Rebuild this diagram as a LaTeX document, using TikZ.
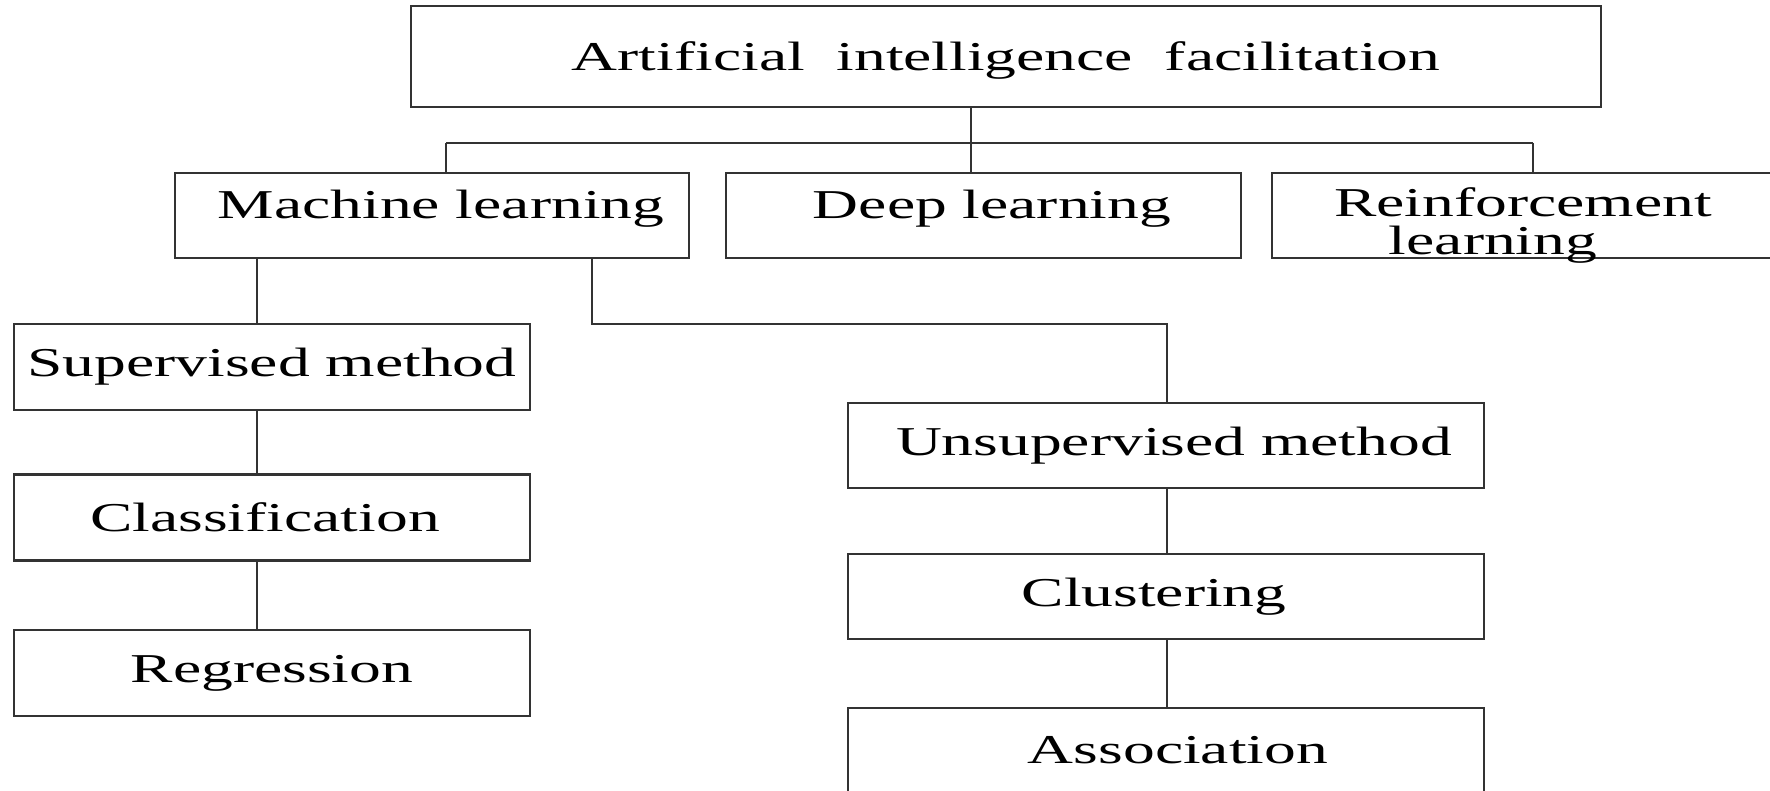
\documentclass[tikz,border=0pt]{standalone}
\usepackage{fontspec}
\setmainfont{Liberation Serif}[FakeStretch=1.55]
\begin{document}
\begin{tikzpicture}[x=1pt,y=-1pt,
  box/.style={draw=black!80, line width=2.4pt, rectangle, inner sep=0pt,
    font=\fontsize{41}{38}\selectfont, text=black},
  wide/.style={minimum width=516pt, minimum height=86pt},
  rowone/.style={text depth=23pt},
  lbl/.style={inner sep=0pt, anchor=base, font=\fontsize{41}{38}\selectfont, text=black},
  link/.style={draw=black!80, line width=2.4pt}]
\useasboundingbox (0,0) rectangle (1770,791);
\clip (0,0) rectangle (1770,791);
\fill[white] (0,0) rectangle (1770,791);

% top
\node[box, text depth=1pt, minimum width=1190pt, minimum height=101pt] (top) at (1006,56.5)
  {Artificial~~intelligence~~facilitation};

% row one
\node[box, rowone, minimum width=514pt, minimum height=85pt] (ml) at (432,215.5)
  {\hspace*{18pt}Machine learning};
\node[box, rowone, minimum width=515pt, minimum height=85pt] (dl) at (983.5,215.5)
  {\hspace*{17pt}Deep learning};
\node[box, minimum width=528pt, minimum height=85pt] (rl) at (1536,215.5) {};
\node[lbl] (rla) at (1523,217) {Reinforcement};
\node[lbl] (rlb) at (1493,255) {learning};

% supervised column
\node[box, wide] (sup) at (272,367) {Supervised method};
\node[box, wide] (cls) at (272,517.5) {Classification\hspace*{14pt}};
\node[box, wide] (reg) at (272,673) {Regression};

% unsupervised column
\node[box, minimum width=636pt, minimum height=85pt] (uns) at (1166,445.5)
  {\hspace*{16pt}Unsupervised method};
\node[box, minimum width=636pt, minimum height=85pt] (clu) at (1166,596.5)
  {Clustering\hspace*{24pt}};
\node[box, minimum width=636pt, minimum height=85pt] (ass) at (1166,750.5)
  {\hspace*{24pt}Association};

% connector coordinates
\coordinate (busL) at (446,143);
\coordinate (busR) at (1533,143);
\coordinate (busM) at (971,143);
\coordinate (supx) at (257,0);
\coordinate (mlR) at (592,0);
\coordinate (turn) at (1167,324);

% connectors
\draw[link] (busL) -- (busR);
\draw[link] (busL) -- (busL |- ml.north);
\draw[link] (busR) -- (busR |- rl.north);
\draw[link] (top.south -| busM) -- (dl.north -| busM);
\draw[link] (ml.south -| supx) -- (sup.north -| supx);
\draw[link] (sup.south -| supx) -- (cls.north -| supx);
\draw[link] (cls.south -| supx) -- (reg.north -| supx);
\draw[link] (ml.south -| mlR) |- (turn) -- (turn |- uns.north);
\draw[link] (uns.south -| turn) -- (clu.north -| turn);
\draw[link] (clu.south -| turn) -- (ass.north -| turn);
\end{tikzpicture}
\end{document}
